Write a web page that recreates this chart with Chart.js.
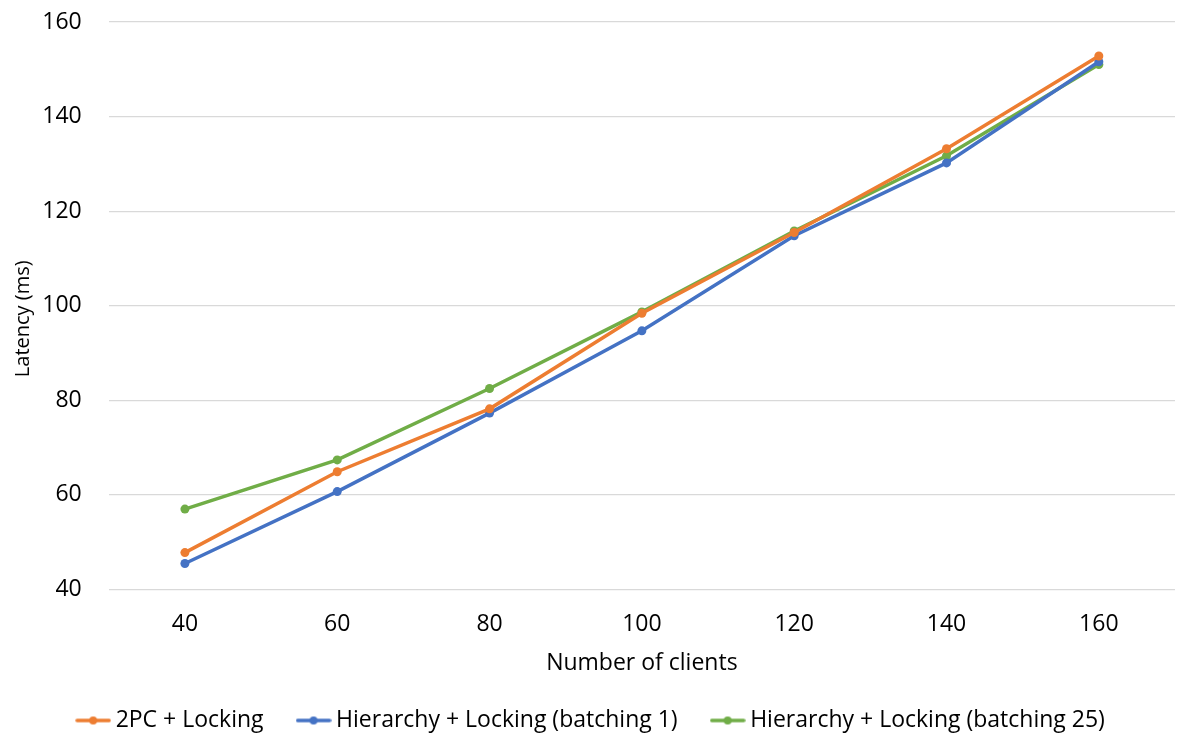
<!DOCTYPE html>
<html>
<head>
<meta charset="utf-8">
<script src="https://cdn.jsdelivr.net/npm/chart.js@4/dist/chart.umd.min.js"></script>
<style>
  html, body { margin: 0; padding: 0; background: #ffffff; }
  #wrap { width: 1180px; height: 736px; position: relative; }
</style>
</head>
<body>
<div id="wrap"><canvas id="chart"></canvas></div>
<script>
// Number of clients on the x axis
const clients = ['40', '60', '80', '100', '120', '140', '160'];

// Latency (ms) for each configuration
const twoPcLocking = [47.8, 64.9, 78.2, 98.4, 115.5, 133.2, 152.8];
const hierBatch1   = [45.5, 60.7, 77.3, 94.7, 114.8, 130.2, 151.6];
const hierBatch25  = [57.0, 67.4, 82.5, 98.7, 115.8, 131.7, 151.0];

const seriesNames  = ['2PC + Locking', 'Hierarchy + Locking (batching 1)', 'Hierarchy + Locking (batching 25)'];
const seriesColors = ['#ED7D31', '#4472C4', '#70AD47'];

// Legend marker: short line with a dot in the middle
function legendMarker(color) {
  const c = document.createElement('canvas');
  c.width = 36; c.height = 10;
  const g = c.getContext('2d');
  g.strokeStyle = color;
  g.lineWidth = 3.5;
  g.lineCap = 'round';
  g.beginPath(); g.moveTo(2, 5); g.lineTo(34, 5); g.stroke();
  g.fillStyle = color;
  g.beginPath(); g.arc(18, 5, 4, 0, Math.PI * 2); g.fill();
  return c;
}

const FONT = '"Open Sans", Lato, sans-serif';

function makeSet(name, data, color) {
  return {
    label: name,
    data: data,
    borderColor: color,
    backgroundColor: color,
    borderWidth: 3.5,
    pointRadius: 4.5,
    pointHoverRadius: 5,
    pointBorderWidth: 0,
    pointStyle: 'circle',
    legendMarker: legendMarker(color),
    tension: 0
  };
}

const datasets = [
  makeSet(seriesNames[0], twoPcLocking, seriesColors[0]),
  makeSet(seriesNames[1], hierBatch1, seriesColors[1]),
  makeSet(seriesNames[2], hierBatch25, seriesColors[2])
];

new Chart(document.getElementById('chart'), {
  type: 'line',
  data: { labels: clients, datasets: datasets },
  options: {
    responsive: true,
    maintainAspectRatio: false,
    animation: false,
    layout: { padding: { left: 11, right: 4, top: 22, bottom: -6 } },
    plugins: {
      tooltip: { enabled: false },
      legend: {
        position: 'bottom',
        labels: {
          usePointStyle: true,
          pointStyleWidth: 22,
          padding: 39,
          color: '#000000',
          font: { family: FONT, size: 23 },
          generateLabels(chart) {
            return chart.data.datasets.map((d, i) => ({
              text: d.label,
              fillStyle: d.borderColor,
              strokeStyle: d.borderColor,
              lineWidth: 0,
              pointStyle: d.legendMarker,
              hidden: false,
              datasetIndex: i,
              fontColor: '#000000'
            }));
          }
        }
      }
    },
    scales: {
      x: {
        offset: true,
        grid: { display: false },
        border: { display: false },
        ticks: { color: '#000000', font: { family: FONT, size: 23 }, padding: 13 },
        title: {
          display: true,
          text: 'Number of clients',
          color: '#000000',
          font: { family: FONT, size: 23 },
          padding: { top: 0, bottom: -7 }
        },
        afterFit(scale) {
          scale.height = 80.5;
          scale.paddingLeft = 0;
          scale.paddingRight = 0;
        }
      },
      y: {
        min: 40,
        max: 160,
        grid: { color: '#D9D9D9', lineWidth: 1.2, drawTicks: false },
        border: { display: false },
        ticks: { stepSize: 20, color: '#000000', font: { family: FONT, size: 23 }, padding: 27 },
        title: {
          display: true,
          // trailing no-break spaces nudge the rotated title a little below the axis middle
          text: 'Latency (ms)\u00a0\u00a0\u00a0\u00a0\u00a0',
          color: '#000000',
          font: { family: FONT, size: 20 },
          padding: { top: 0, bottom: 0 }
        },
        afterFit(scale) {
          scale.width = 97.75;
          scale.paddingTop = 0;
          scale.paddingBottom = 0;
        }
      }
    }
  }
});
</script>
</body>
</html>
